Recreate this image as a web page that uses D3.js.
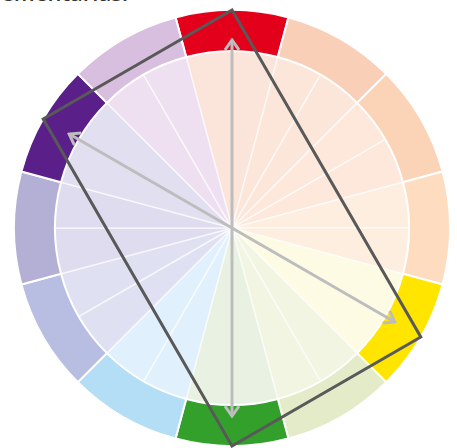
<!DOCTYPE html>
<html>
<head>
<meta charset="utf-8">
<script src="https://d3js.org/d3.v7.min.js"></script>
<style>
  body { margin: 0; background: #fff; }
  svg { display: block; }
</style>
</head>
<body>
<svg id="chart" width="457" height="448"></svg>
<script>
// hue segments, clockwise from the top (degrees of segment centre)
var hueAngles = [0, 30, 60, 90, 120, 150, 180, 210, 240, 270, 300, 330];
var ringColors = ["#e2001a", "#f9cfb8", "#fbd3b6", "#fddcbf", "#ffe500", "#e4ebc9",
                  "#34a02c", "#b3def5", "#b8bde2", "#b4afd5", "#5b1f8a", "#d9bfdf"];
var innerColors = ["#fbe4da", "#fce6da", "#fde8db", "#feeee0", "#fefbe4", "#f1f5e2",
                   "#e9f2e2", "#e0f0fc", "#dfe0f2", "#dedcee", "#e2dff0", "#efe0f1"];

// tetradic scheme: corners of the rectangle and the complementary pairs
var schemeAngles = [0, 120, 180, 300];
var pairs = [[0, 180], [300, 120]];

var cx = 232, cy = 228;
var rOuter = 218, rInner = 177, rArrow = 188;

var svg = d3.select("#chart");

var rad = d3.scaleLinear().domain([0, 360]).range([0, 2 * Math.PI]);

function polar(angle, r) {
  var a = rad(angle);
  return [cx + r * Math.sin(a), cy - r * Math.cos(a)];
}

// title line, cut off at the top of the picture
svg.append("text")
  .attr("x", 128).attr("y", 1)
  .attr("text-anchor", "end")
  .style("font-family", "Open Sans, sans-serif")
  .style("font-size", "22px")
  .style("font-weight", "600")
  .style("fill", "#333")
  .text("complementarias.");

var g = svg.append("g").attr("transform", "translate(" + cx + "," + cy + ")");

// inner wedges, two per hue
var halves = [];
hueAngles.forEach(function(h, i) {
  halves.push({start: h - 15, end: h, color: innerColors[i]});
  halves.push({start: h, end: h + 15, color: innerColors[i]});
});

var innerArc = d3.arc().innerRadius(0).outerRadius(rInner + 1);
g.selectAll("path.inner")
  .data(halves)
  .enter().append("path")
  .attr("class", "inner")
  .attr("d", function(d) { return innerArc({startAngle: rad(d.start), endAngle: rad(d.end)}); })
  .style("fill", function(d) { return d.color; })
  .style("stroke", "#fff")
  .style("stroke-opacity", 0.6)
  .style("stroke-width", 1.5);

// outer ring
var ringArc = d3.arc().innerRadius(rInner).outerRadius(rOuter);
g.selectAll("path.ring")
  .data(hueAngles)
  .enter().append("path")
  .attr("class", "ring")
  .attr("d", function(h) { return ringArc({startAngle: rad(h - 15), endAngle: rad(h + 15)}); })
  .style("fill", function(h, i) { return ringColors[i]; })
  .style("stroke", "#fff")
  .style("stroke-width", 2);

// arrow heads
var defs = svg.append("defs");
defs.append("marker")
  .attr("id", "head")
  .attr("viewBox", "-12 -8 14 16")
  .attr("refX", 0).attr("refY", 0)
  .attr("markerWidth", 14).attr("markerHeight", 16)
  .attr("markerUnits", "userSpaceOnUse")
  .attr("orient", "auto-start-reverse")
  .append("path")
  .attr("d", "M-10,-7 L0,0 L-10,7")
  .style("fill", "none")
  .style("stroke", "#bdbdbd")
  .style("stroke-width", 3);

svg.selectAll("line.pair")
  .data(pairs)
  .enter().append("line")
  .attr("class", "pair")
  .attr("x1", function(p) { return polar(p[0], rArrow)[0]; })
  .attr("y1", function(p) { return polar(p[0], rArrow)[1]; })
  .attr("x2", function(p) { return polar(p[1], rArrow)[0]; })
  .attr("y2", function(p) { return polar(p[1], rArrow)[1]; })
  .attr("marker-start", "url(#head)")
  .attr("marker-end", "url(#head)")
  .style("stroke", "#bdbdbd")
  .style("stroke-width", 3);

// rectangle joining the four hues
svg.append("path")
  .datum(schemeAngles.map(function(a) { return polar(a, rOuter); }))
  .attr("d", function(pts) { return d3.line()(pts) + "Z"; })
  .style("fill", "none")
  .style("stroke", "#595959")
  .style("stroke-width", 3)
  .style("stroke-linejoin", "miter");
</script>
</body>
</html>
